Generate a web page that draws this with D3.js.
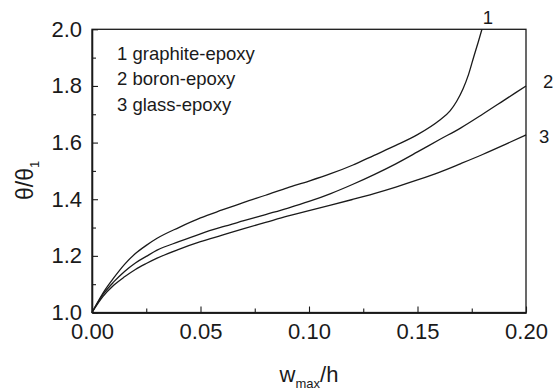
<!DOCTYPE html>
<html>
<head>
<meta charset="utf-8">
<script src="https://cdn.jsdelivr.net/npm/d3@7"></script>
<style>
  html, body { margin: 0; padding: 0; background: #fff; }
  svg { display: block; font-family: "Liberation Sans", Arial, sans-serif; }
</style>
</head>
<body>
<svg id="chart" width="553" height="392"></svg>
<script>
// ---- data ----
const seriesNames = ["1 graphite-epoxy", "2 boron-epoxy", "3 glass-epoxy"];
const curveLabels = ["1", "2", "3"];

const graphiteX = [0, 0.005, 0.01, 0.015, 0.02, 0.025, 0.03, 0.04, 0.05, 0.06, 0.07, 0.08, 0.09, 0.10, 0.11, 0.12, 0.13, 0.14, 0.15, 0.16, 0.165, 0.168, 0.171, 0.1735, 0.176, 0.178, 0.1797];
const graphiteY = [1.0, 1.068, 1.122, 1.170, 1.208, 1.237, 1.262, 1.300, 1.334, 1.362, 1.389, 1.414, 1.440, 1.464, 1.490, 1.520, 1.555, 1.590, 1.628, 1.678, 1.712, 1.745, 1.790, 1.840, 1.905, 1.955, 2.0];

const boronX = [0, 0.005, 0.01, 0.015, 0.02, 0.025, 0.03, 0.04, 0.05, 0.06, 0.07, 0.08, 0.09, 0.10, 0.11, 0.12, 0.13, 0.14, 0.15, 0.16, 0.17, 0.18, 0.19, 0.20];
const boronY = [1.0, 1.063, 1.108, 1.145, 1.175, 1.198, 1.220, 1.250, 1.278, 1.302, 1.324, 1.346, 1.368, 1.392, 1.420, 1.452, 1.487, 1.525, 1.567, 1.610, 1.652, 1.700, 1.750, 1.800];

const glassX = [0, 0.005, 0.01, 0.015, 0.02, 0.025, 0.03, 0.04, 0.05, 0.06, 0.07, 0.08, 0.09, 0.10, 0.11, 0.12, 0.13, 0.14, 0.15, 0.16, 0.17, 0.18, 0.19, 0.20];
const glassY = [1.0, 1.056, 1.096, 1.126, 1.152, 1.173, 1.192, 1.223, 1.250, 1.273, 1.296, 1.318, 1.340, 1.360, 1.379, 1.399, 1.420, 1.443, 1.468, 1.495, 1.526, 1.558, 1.592, 1.627];

const xTicks = [0, 0.05, 0.10, 0.15, 0.20];
const xMinorTicks = [0.025, 0.075, 0.125, 0.175];
const yTicks = [1.0, 1.2, 1.4, 1.6, 1.8, 2.0];
const yMinorTicks = [1.1, 1.3, 1.5, 1.7, 1.9];

// ---- layout ----
const svg = d3.select("#chart");
const plotLeft = 92, plotRight = 526, plotTop = 29.3, plotBottom = 312.5;
const x = d3.scaleLinear().domain([0, 0.2]).range([plotLeft, plotRight]);
const y = d3.scaleLinear().domain([1.0, 2.0]).range([plotBottom, plotTop]);
const ink = "#1a1a1a";

// frame
svg.append("rect")
  .attr("x", plotLeft).attr("y", plotTop)
  .attr("width", plotRight - plotLeft).attr("height", plotBottom - plotTop)
  .attr("fill", "none").attr("stroke", ink).attr("stroke-width", 1.3);

// axes
const xAxis = svg.append("g").attr("transform", `translate(0,${plotBottom})`)
  .call(d3.axisBottom(x).tickValues(xTicks).tickFormat(d3.format(".2f"))
    .tickSizeInner(-6).tickSizeOuter(0).tickPadding(11));
const xMinor = svg.append("g").attr("transform", `translate(0,${plotBottom})`)
  .call(d3.axisBottom(x).tickValues(xMinorTicks).tickFormat("")
    .tickSizeInner(-4).tickSizeOuter(0));
const yAxis = svg.append("g").attr("transform", `translate(${plotLeft},0)`)
  .call(d3.axisLeft(y).tickValues(yTicks).tickFormat(d3.format(".1f"))
    .tickSizeInner(-6).tickSizeOuter(0).tickPadding(10));
const yMinor = svg.append("g").attr("transform", `translate(${plotLeft},0)`)
  .call(d3.axisLeft(y).tickValues(yMinorTicks).tickFormat("")
    .tickSizeInner(-4).tickSizeOuter(0));

[xAxis, xMinor, yAxis, yMinor].forEach(g => {
  g.select(".domain").attr("stroke", ink).attr("stroke-width", 1.3);
  g.selectAll(".tick line").attr("stroke", ink).attr("stroke-width", 1.1);
  g.selectAll(".tick text").attr("fill", ink)
    .style("font-size", "22px").style("font-family", '"Liberation Sans", Arial, sans-serif');
});

// curves
const line = d3.line().x(d => x(d[0])).y(d => y(d[1])).curve(d3.curveMonotoneX);
const series = [
  d3.zip(graphiteX, graphiteY),
  d3.zip(boronX, boronY),
  d3.zip(glassX, glassY)
];
svg.append("g").selectAll("path").data(series).join("path")
  .attr("d", line)
  .attr("fill", "none").attr("stroke", ink).attr("stroke-width", 1.3);

// legend text
svg.append("g").selectAll("text").data(seriesNames).join("text")
  .attr("x", 117).attr("y", (d, i) => 59.5 + i * 25.6)
  .attr("fill", ink).style("font-size", "18.5px")
  .text(d => d);

// curve end labels
const labelPos = [[488, 23.5, "middle"], [543, 88, "start"], [539, 143, "start"]];
svg.append("g").selectAll("text").data(curveLabels).join("text")
  .attr("x", (d, i) => labelPos[i][0]).attr("y", (d, i) => labelPos[i][1])
  .attr("text-anchor", (d, i) => labelPos[i][2])
  .attr("fill", ink).style("font-size", "18.5px")
  .text(d => d);

// x title: w_max/h
const xt = svg.append("text").attr("x", 309).attr("y", 382)
  .attr("text-anchor", "middle").attr("fill", ink).style("font-size", "22px");
xt.append("tspan").text("w");
xt.append("tspan").attr("dy", 6).style("font-size", "13px").text("max");
xt.append("tspan").attr("dy", -6).text("/h");

// y title: θ/θ1
const yt = svg.append("text")
  .attr("transform", "translate(33,200) rotate(-90)")
  .attr("text-anchor", "start").attr("fill", ink).style("font-size", "23px");
yt.append("tspan").text("θ/θ");
yt.append("tspan").attr("dy", 6).style("font-size", "13px").text("1");
</script>
</body>
</html>
